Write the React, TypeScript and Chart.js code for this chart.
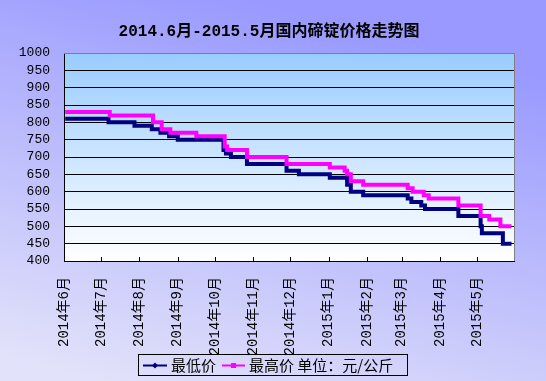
import React, { useEffect, useRef } from 'react';
import { Chart, registerables } from 'chart.js';

Chart.register(...registerables);

// ---------- data ----------
const chartTitle = '2014.6月-2015.5月国内碲锭价格走势图';

const axisStartDate = '2014-06-01';
const axisEndDate = '2015-05-31';

const monthTickDates = [
  '2014-06-01', '2014-07-01', '2014-08-01', '2014-09-01', '2014-10-01', '2014-11-01',
  '2014-12-01', '2015-01-01', '2015-02-01', '2015-03-01', '2015-04-01', '2015-05-01',
];
const monthLabels = [
  '2014年6月', '2014年7月', '2014年8月', '2014年9月', '2014年10月', '2014年11月',
  '2014年12月', '2015年1月', '2015年2月', '2015年3月', '2015年4月', '2015年5月',
];

const yMin = 400;
const yMax = 1000;
const yStep = 50;

const lowName = '最低价';
const highName = '最高价';
const unitText = ' 单位：元/公斤';

// price change points (value holds from that date until the next one)
const lowDates = [
  '2014-06-02', '2014-07-07', '2014-07-28', '2014-08-11', '2014-08-18', '2014-08-25',
  '2014-09-01', '2014-10-08', '2014-10-10', '2014-10-14', '2014-10-27', '2014-11-28',
  '2014-12-08', '2015-01-02', '2015-01-16', '2015-01-19', '2015-01-29', '2015-03-06',
  '2015-03-09', '2015-03-17', '2015-03-20', '2015-04-16', '2015-05-04', '2015-05-05',
  '2015-05-22', '2015-05-29',
];
const lowValues = [
  810, 800, 790, 780, 770, 760,
  750, 720, 710, 700, 680, 660,
  650, 640, 620, 600, 590, 580,
  570, 560, 550, 530, 500, 480,
  450, 450,
];

const highDates = [
  '2014-06-02', '2014-07-08', '2014-08-12', '2014-08-19', '2014-08-26', '2014-09-16',
  '2014-10-09', '2014-10-11', '2014-10-27', '2014-11-28', '2015-01-02', '2015-01-14',
  '2015-01-16', '2015-01-19', '2015-01-29', '2015-03-06', '2015-03-10', '2015-03-19',
  '2015-03-23', '2015-04-16', '2015-05-04', '2015-05-11', '2015-05-20', '2015-05-29',
];
const highValues = [
  830, 820, 800, 780, 770, 760,
  730, 720, 700, 680, 670, 660,
  650, 630, 620, 610, 600, 590,
  580, 560, 530, 520, 500, 500,
];

// ---------- helpers ----------
const dayIndex = (s: string) => {
  const [y, m, d] = s.split('-').map(Number);
  const [y0, m0, d0] = axisStartDate.split('-').map(Number);
  return (Date.UTC(y, m - 1, d) - Date.UTC(y0, m0 - 1, d0)) / 86400000;
};

const toPoints = (dates: string[], values: number[]) =>
  dates.map((d, i) => ({ x: dayIndex(d), y: values[i] }));

const LOW_COLOR = '#000080';
const HIGH_COLOR = '#FF00FF';
const CJK = '"Noto Sans CJK SC"';
const MONO = '"Liberation Mono", "Noto Sans CJK SC"';

const decorPlugin = {
  id: 'decor',
  beforeDraw(chart: any) {
    const { ctx, chartArea: a } = chart;
    ctx.save();
    const g = ctx.createLinearGradient(0, a.top, 0, a.bottom);
    g.addColorStop(0, '#99CCFF');
    g.addColorStop(1, '#FFFFFF');
    ctx.fillStyle = g;
    ctx.fillRect(a.left, a.top, a.right - a.left, a.bottom - a.top);
    ctx.fillStyle = '#000';
    ctx.font = `bold 16px ${MONO}`;
    ctx.textAlign = 'center';
    ctx.textBaseline = 'middle';
    ctx.fillText(chartTitle, 269, 32);
    ctx.restore();
  },
  beforeDatasetsDraw(chart: any) {
    const { ctx, chartArea: a, scales } = chart;
    ctx.save();
    ctx.strokeStyle = '#808080';
    ctx.lineWidth = 1;
    ctx.beginPath();
    ctx.moveTo(a.left, Math.round(a.top) + 0.5);
    ctx.lineTo(Math.round(a.right) + 0.5, Math.round(a.top) + 0.5);
    ctx.lineTo(Math.round(a.right) + 0.5, a.bottom);
    ctx.stroke();
    // inward tick marks on the x axis
    ctx.strokeStyle = '#000';
    ctx.beginPath();
    const xs = scales.x;
    xs.ticks.forEach((t: any) => {
      const px = Math.round(xs.getPixelForValue(t.value)) + 0.5;
      ctx.moveTo(px, a.bottom);
      ctx.lineTo(px, a.bottom - 4);
    });
    ctx.stroke();
    ctx.restore();
  },
  afterDraw(chart: any) {
    const { ctx } = chart;
    ctx.save();
    // legend box
    ctx.strokeStyle = '#000';
    ctx.lineWidth = 1;
    ctx.strokeRect(138.5, 354.5, 269, 21);
    const cy = 365.5;
    // low series sample
    ctx.strokeStyle = LOW_COLOR;
    ctx.lineWidth = 2;
    ctx.beginPath();
    ctx.moveTo(143, cy);
    ctx.lineTo(167, cy);
    ctx.stroke();
    ctx.fillStyle = LOW_COLOR;
    ctx.beginPath();
    ctx.moveTo(155, cy - 3);
    ctx.lineTo(158, cy);
    ctx.lineTo(155, cy + 3);
    ctx.lineTo(152, cy);
    ctx.closePath();
    ctx.fill();
    // high series sample
    ctx.strokeStyle = HIGH_COLOR;
    ctx.beginPath();
    ctx.moveTo(222, cy);
    ctx.lineTo(245, cy);
    ctx.stroke();
    ctx.fillStyle = HIGH_COLOR;
    ctx.fillRect(231, cy - 2.5, 5, 5);
    // texts
    ctx.fillStyle = '#000';
    ctx.font = `15px ${CJK}`;
    ctx.textAlign = 'left';
    ctx.textBaseline = 'middle';
    ctx.fillText(lowName, 171, cy);
    ctx.fillText(highName + unitText, 249, cy);
    ctx.restore();
  },
};

export default function App() {
  const canvasRef = useRef<HTMLCanvasElement | null>(null);

  useEffect(() => {
    document.body.style.margin = '0';
    const canvas = canvasRef.current;
    if (!canvas) return;
    const tickValues = monthTickDates.map(dayIndex);

    const chart = new Chart(canvas, {
      type: 'line',
      data: {
        datasets: [
          {
            label: lowName,
            data: toPoints(lowDates, lowValues),
            borderColor: LOW_COLOR,
            backgroundColor: LOW_COLOR,
            borderWidth: 4,
            pointRadius: 0,
            stepped: 'before',
            order: 1,
          },
          {
            label: highName,
            data: toPoints(highDates, highValues),
            borderColor: HIGH_COLOR,
            backgroundColor: HIGH_COLOR,
            borderWidth: 4,
            pointRadius: 0,
            stepped: 'before',
            order: 0,
          },
        ],
      },
      options: {
        animation: false,
        responsive: true,
        maintainAspectRatio: false,
        devicePixelRatio: 1,
        layout: { padding: { top: 53, right: 32, bottom: 0, left: 0 } },
        plugins: {
          legend: { display: false },
          title: { display: false },
          tooltip: { enabled: false },
        },
        scales: {
          x: {
            type: 'linear',
            min: dayIndex(axisStartDate),
            max: dayIndex(axisEndDate),
            afterBuildTicks: (scale: any) => {
              scale.ticks = tickValues.map((v) => ({ value: v }));
            },
            afterFit: (scale: any) => {
              scale.height = 120;
            },
            grid: { drawOnChartArea: false, drawTicks: false },
            border: { display: true, color: '#000', width: 1 },
            ticks: {
              autoSkip: false,
              minRotation: 90,
              maxRotation: 90,
              padding: 16,
              color: '#000',
              font: { family: MONO, size: 14 },
              callback: (_v: any, i: number) => monthLabels[i],
            },
          },
          y: {
            min: yMin,
            max: yMax,
            afterFit: (scale: any) => {
              scale.width = 64;
            },
            grid: {
              drawTicks: false,
              color: (c: any) => (c.tick && c.tick.value === yMax ? '#808080' : '#000'),
              lineWidth: 1,
            },
            border: { display: true, color: '#000', width: 1 },
            ticks: {
              stepSize: yStep,
              maxTicksLimit: 30,
              autoSkip: false,
              padding: 14,
              color: '#000',
              font: { family: MONO, size: 13 },
              callback: (v: any) => String(v),
            },
          },
        },
      } as any,
      plugins: [decorPlugin],
    });
    return () => chart.destroy();
  }, []);

  return (
    <div
      style={{
        position: 'relative',
        width: 546,
        height: 381,
        background: 'linear-gradient(195deg, #9999ff 15%, #e2e2fa 95%)',
      }}
    >
      <canvas ref={canvasRef} />
    </div>
  );
}
